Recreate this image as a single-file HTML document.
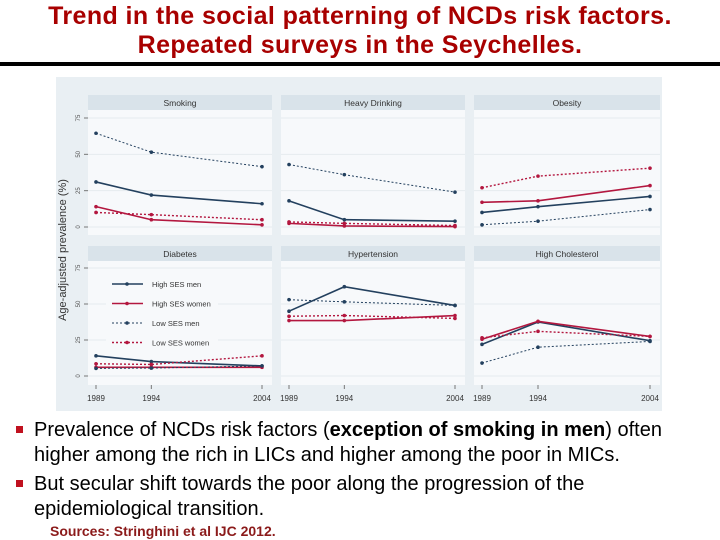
<!DOCTYPE html>
<html><head><meta charset="utf-8"><style>
body{margin:0;width:720px;height:540px;background:#fff;overflow:hidden;position:relative;font-family:"Liberation Sans",Arial,sans-serif}
.t{position:absolute;left:0;width:720px;text-align:center;font-weight:bold;font-size:25px;letter-spacing:0.4px;color:#a80000;line-height:29px;white-space:nowrap}
.b{position:absolute;left:34px;font-size:20px;color:#000;line-height:24.5px;width:690px;white-space:nowrap}
.sq{position:absolute;left:16px;width:7px;height:7px;background:#c0111f}
</style></head><body>
<div class="t" style="top:2px">Trend in the social patterning of NCDs risk factors.<br>Repeated surveys in the Seychelles.</div>
<div style="position:absolute;left:0;top:62px;width:720px;height:4px;background:#000"></div>
<svg id="c" style="position:absolute;left:0;top:0" width="720" height="415"></svg>
<div class="sq" style="top:426px"></div>
<div class="b" style="top:418px">Prevalence of NCDs risk factors (<b>exception of smoking in men</b>) often<br>higher among the rich in LICs and higher among the poor in MICs.</div>
<div class="sq" style="top:480px"></div>
<div class="b" style="top:472px">But secular shift towards the poor along the progression of the<br>epidemiological transition.</div>
<div style="position:absolute;left:50px;top:523px;font-size:14px;font-weight:bold;color:#8b1a1a">Sources: Stringhini et al IJC 2012.</div>
<script>
const years=[1989,1994,2004];
const panels=["Smoking","Heavy Drinking","Obesity","Diabetes","Hypertension","High Cholesterol"];
const seriesNames=["High SES men","High SES women","Low SES men","Low SES women"];
const highMen=[[31,22,16],[18,5,4],[10,14,21],[14,10,7],[45,62,49],[22,37.5,24.5]];
const highWomen=[[14,5,1.5],[2.5,0.7,0.3],[17,18,28.5],[6,6,6],[38.5,38.5,42],[25.5,38,27.5]];
const lowMen=[[64.5,51.5,41.5],[43,36,24],[1.5,4,12],[5.3,5.5,7],[53,51.5,49],[9,20,24]];
const lowWomen=[[10,8.5,5],[3.5,2.5,1],[27,35,40.5],[8.5,8,14],[41.5,42,40],[26.5,31,27.5]];
const yTicks=[0,25,50,75];
const NS="http://www.w3.org/2000/svg",svg=document.getElementById('c');
function mk(t,a,p){const e=document.createElementNS(NS,t);for(const k in a)e.setAttribute(k,a[k]);(p||svg).appendChild(e);return e;}
const bg=mk('rect',{x:56,y:77,width:606,height:334,fill:'#e9eff3'});

const colX=[[88,272],[281,465],[474,660]];
const rowY=[{h:95,top:110,bot:235,y0:227,y75:118},{h:246,top:261,bot:385,y0:376,y75:268}];
const yt=mk('text',{x:66,y:250,'font-size':11,fill:'#333','text-anchor':'middle',transform:'rotate(-90 66 250)'});
yt.textContent='Age-adjusted prevalence (%)';

const styles=[{s:'#23405e',d:'',w:1.6},{s:'#b3173f',d:'',w:1.6},{s:'#23405e',d:'2,2',w:1},{s:'#b3173f',d:'2,2',w:1.4}];
const data=[highMen,highWomen,lowMen,lowWomen];
panels.forEach((name,p)=>{
  const r=rowY[Math.floor(p/3)],c=colX[p%3];
  const g=mk('g',{});
  mk('rect',{x:c[0],y:r.h,width:c[1]-c[0],height:r.top-r.h,fill:'#d9e3ea'},g);
  const ht=mk('text',{x:(c[0]+c[1])/2,y:r.h+11,'font-size':8.5,fill:'#333','text-anchor':'middle'},g);ht.textContent=name;
  
  mk('rect',{x:c[0],y:r.top,width:c[1]-c[0],height:r.bot-r.top,fill:'#f7f9fb'},g);
  const yS=v=>r.y0+(r.y75-r.y0)*v/75;
  const x0=c[0]+8,x1=c[1]-10;
  const xS=yr=>x0+(x1-x0)*(yr-1989)/15;
  yTicks.forEach(t=>{mk('line',{x1:c[0],x2:c[1],y1:yS(t),y2:yS(t),stroke:'#e6ebef','stroke-width':1},g);
    if(p%3==0){const tx=mk('text',{x:80,y:yS(t),'font-size':6,fill:'#555','text-anchor':'middle',transform:`rotate(-90 80 ${yS(t)})`},g);tx.textContent=t;
      
      mk('line',{x1:84,x2:88,y1:yS(t),y2:yS(t),stroke:'#777'},g);}});
  if(p>=3){years.forEach(yr=>{mk('line',{x1:xS(yr),x2:xS(yr),y1:r.bot,y2:r.bot+4,stroke:'#777'},g);
    const tx=mk('text',{x:xS(yr),y:r.bot+16,'font-size':8,fill:'#333','text-anchor':'middle'},g);tx.textContent=yr;
    });}
  data.forEach((ser,si)=>{const st=styles[si];
    const pts=years.map((yr,i)=>xS(yr)+','+yS(ser[p][i])).join(' ');
    const pl=mk('polyline',{points:pts,fill:'none',stroke:st.s,'stroke-width':st.w,'stroke-dasharray':st.d},g);
    
    years.forEach((yr,i)=>{const m=mk('circle',{cx:xS(yr),cy:yS(ser[p][i]),r:1.8,fill:st.s},g);
      });});
});
const lg=mk('g',{});
mk('rect',{x:106,y:271,width:112,height:70,fill:'#f7f9fb'},lg);
seriesNames.forEach((n,i)=>{const y=284+i*19.5,st=styles[i];
  mk('line',{x1:112,x2:143,y1:y,y2:y,stroke:st.s,'stroke-width':st.w,'stroke-dasharray':st.d},lg);
  mk('circle',{cx:127,cy:y,r:1.8,fill:st.s},lg);
  const t=mk('text',{x:152,y:y+3,'font-size':7.5,fill:'#333'},lg);t.textContent=n;
  });
</script>
</body></html>
